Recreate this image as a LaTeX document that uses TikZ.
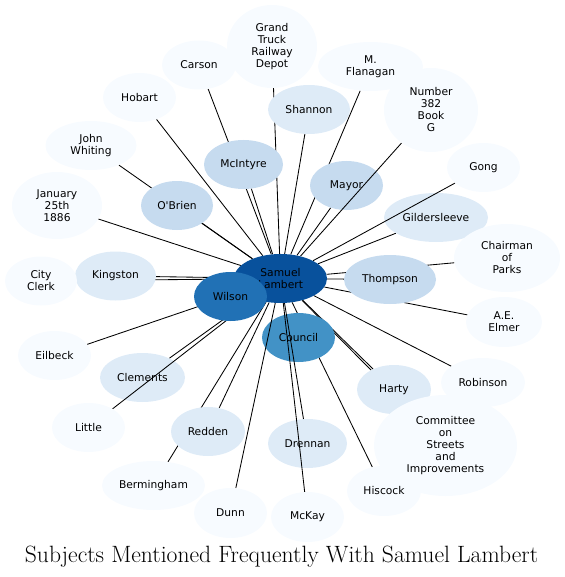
\documentclass[tikz,border=0pt]{standalone}
\usepackage{fontspec}
\usepackage{xcolor}
\usepackage{tikz}
\usetikzlibrary{shapes.geometric}
\newfontfamily\labelfont{DejaVu Sans}
\definecolor{bluA}{HTML}{F7FBFF}
\definecolor{bluB}{HTML}{DEEBF7}
\definecolor{bluC}{HTML}{C6DBEF}
\definecolor{bluF}{HTML}{4292C6}
\definecolor{bluG}{HTML}{2171B5}
\definecolor{bluH}{HTML}{08519C}
\pgfdeclarelayer{linksback}
\pgfdeclarelayer{nodesback}
\pgfdeclarelayer{linksfront}
\pgfsetlayers{linksback,nodesback,linksfront,main}

\begin{document}
\begin{tikzpicture}[x=1bp, y=-1bp,
  subj/.style={ellipse, inner sep=0pt, minimum width=73bp, minimum height=49bp,
    align=center, text=black, font=\labelfont\fontsize{10.7bp}{12bp}\selectfont},
  rare/.style={subj, fill=bluA},
  some/.style={subj, fill=bluB},
  often/.style={subj, fill=bluC},
  link/.style={draw=black, line width=0.85bp}]

  \useasboundingbox (0,0) rectangle (565,577);

  % --- centre of the cluster ---
  \node[subj, fill=bluH, minimum width=93bp] (sam) at (280.5,278.5) {Samuel\\Lambert};
  \node[subj, fill=bluG] (wilson) at (230.5,296.5) {Wilson};

  % --- nodes that edges run across ---
  \begin{pgfonlayer}{nodesback}
    \node[subj, fill=bluF] (council) at (298.5,337.5) {Council};
    \node[often] (mayor) at (346.5,185.5) {Mayor};
    \node[some, minimum width=104bp] (gilder) at (436,217.5) {Gildersleeve};
    \node[some, minimum width=85bp] (clements) at (142.5,377.5) {Clements};
    \node[some, minimum width=79bp] (drennan) at (307.5,443.5) {Drennan};
  \end{pgfonlayer}

  % --- inner ring ---
  \node[often, minimum width=79bp] (mcintyre) at (243.5,164.5) {McIntyre};
  \node[often, minimum width=72bp] (obrien) at (177,205.5) {O'Brien};
  \node[often, minimum width=92bp] (thompson) at (390,279.5) {Thompson};
  \node[some, minimum width=82bp] (shannon) at (309,109.5) {Shannon};
  \node[some, minimum width=81bp] (kingston) at (115.5,276) {Kingston};
  \node[some, minimum width=74bp] (harty) at (394,389.5) {Harty};
  \node[some, minimum width=74bp] (redden) at (208,431.5) {Redden};

  % --- outer ring ---
  \node[rare, minimum width=90bp, minimum height=83bp] (depot) at (272,46.5)
    {Grand\\Truck\\Railway\\Depot};
  \node[rare, minimum width=74bp] (carson) at (199,65) {Carson};
  \node[rare, minimum width=105bp] (flanagan) at (370.5,66.5) {M.\\Flanagan};
  \node[rare] (hobart) at (139.5,97.5) {Hobart};
  \node[rare, minimum width=94bp, minimum height=84bp] (book) at (431,110)
    {Number\\382\\Book\\G};
  \node[rare, minimum width=91bp] (whiting) at (91,145.5) {John\\Whiting};
  \node[rare] (gong) at (483.5,167.5) {Gong};
  \node[rare, minimum width=90bp, minimum height=67bp] (january) at (57,205.5)
    {January\\25th\\1886};
  \node[rare, minimum width=106bp, minimum height=68bp] (parks) at (507,258)
    {Chairman\\of\\Parks};
  \node[rare, minimum width=72bp] (clerk) at (41,281) {City\\Clerk};
  \node[rare, minimum width=76bp, minimum height=50bp] (elmer) at (504,322) {A.E.\\Elmer};
  \node[rare] (eilbeck) at (54.5,355.5) {Eilbeck};
  \node[rare, minimum width=84bp] (robinson) at (483,382.5) {Robinson};
  \node[rare] (little) at (88.5,427.5) {Little};
  \node[rare, minimum width=143bp, minimum height=101bp] (committee) at (445.5,445.5)
    {Committee\\on\\Streets\\and\\Improvements};
  \node[rare, minimum width=103bp] (bermingham) at (153.5,485.5) {Bermingham};
  \node[rare, minimum width=74bp, minimum height=50bp] (hiscock) at (384,491) {Hiscock};
  \node[rare, minimum height=50bp] (dunn) at (230.5,513) {Dunn};
  \node[rare, minimum height=50bp] (mckay) at (307.5,517) {McKay};

  % --- edges hidden where they pass under nodes ---
  \begin{pgfonlayer}{linksback}
    \draw[link] (sam) -- (depot);
    \draw[link] (sam) -- (carson);
    \draw[link] (sam) -- (flanagan);
    \draw[link] (sam) -- (hobart);
    \draw[link] (sam) -- (shannon);
    \draw[link] (sam) -- (whiting);
    \draw[link] (sam) -- (mcintyre);
    \draw[link] (sam) -- (january);
    \draw[link] (sam) -- (obrien);
    \draw[link] (sam) -- (mayor);
    \draw[link] (sam) -- (gilder);
    \draw[link] (sam) -- (parks);
    \draw[link] (sam) -- (thompson);
    \draw[link] (sam) -- (elmer);
    \draw[link] (sam) -- (clerk);
    \draw[link] (sam) -- (kingston);
    \draw[link] (sam) -- (eilbeck);
    \draw[link] (sam) -- (clements);
    \draw[link] (sam) -- (robinson);
    \draw[link] (sam) -- (harty);
    \draw[link] (sam) -- (committee);
    \draw[link] (sam) -- (redden);
    \draw[link] (sam) -- (bermingham);
    \draw[link] (sam) -- (hiscock);
  \end{pgfonlayer}

  % --- edges drawn over the nodes they cross ---
  \begin{pgfonlayer}{linksfront}
    \draw[link] (sam) -- (book);
    \draw[link] (sam) -- (gong);
    \draw[link] (sam) -- (little);
    \draw[link] (sam) -- (drennan);
    \draw[link] (sam) -- (mckay);
    \draw[link] (sam) -- (dunn);
  \end{pgfonlayer}

  % --- title ---
  \node[font=\fontsize{23.6bp}{26bp}\selectfont, anchor=base] (title) at (281.5,562)
    {Subjects Mentioned Frequently With Samuel Lambert};

\end{tikzpicture}
\end{document}
